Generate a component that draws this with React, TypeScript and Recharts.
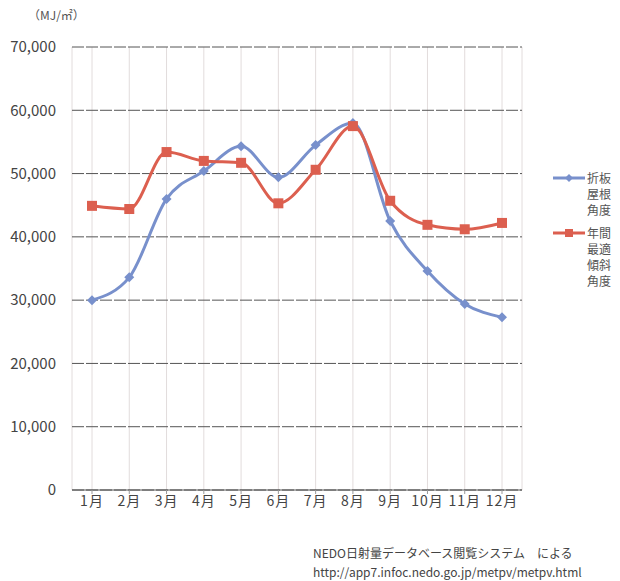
import { LineChart, Line, XAxis, YAxis, CartesianGrid } from 'recharts';

const months = ['1月', '2月', '3月', '4月', '5月', '6月', '7月', '8月', '9月', '10月', '11月', '12月'];
const foldedRoof = [30000, 33600, 46000, 50400, 54300, 49400, 54500, 58000, 42500, 34600, 29400, 27300];
const optimalTilt = [44900, 44400, 53400, 52000, 51700, 45300, 50600, 57500, 45700, 41900, 41200, 42200];
const yTicks = [0, 10000, 20000, 30000, 40000, 50000, 60000, 70000];

const data = months.map((m, i) => ({ month: m, folded: foldedRoof[i], optimal: optimalTilt[i] }));

const font = '"Noto Sans CJK JP", "Noto Sans", sans-serif';
const BLUE = '#7890cc';
const RED = '#dc5f4f';

function Diamond(props: any) {
  const { cx, cy } = props;
  if (cx == null || cy == null) return null;
  const r = 5;
  return <path d={`M${cx},${cy - r}L${cx + r},${cy}L${cx},${cy + r}L${cx - r},${cy}Z`} fill={BLUE} />;
}

function Square(props: any) {
  const { cx, cy } = props;
  if (cx == null || cy == null) return null;
  return <rect x={cx - 5} y={cy - 5} width={10} height={10} fill={RED} />;
}

function LegendBox() {
  const item = (color: string, lines: string[], marker: 'd' | 's') => (
    <div style={{ display: 'flex', alignItems: 'flex-start', marginBottom: 7 }}>
      <svg width={34} height={14} style={{ marginTop: 1 }}>
        <line x1={0} y1={7} x2={32} y2={7} stroke={color} strokeWidth={3} />
        {marker === 'd' ? (
          <path d="M16,3L20,7L16,11L12,7Z" fill={color} />
        ) : (
          <rect x={12} y={3} width={8} height={8} fill={color} />
        )}
      </svg>
      <div style={{ fontSize: 12, lineHeight: '16px', color: '#555', fontFamily: font }}>
        {lines.map((l) => (
          <div key={l}>{l}</div>
        ))}
      </div>
    </div>
  );
  return (
    <div style={{ position: 'absolute', left: 553, top: 170 }}>
      {item(BLUE, ['折板', '屋根', '角度'], 'd')}
      {item(RED, ['年間', '最適', '傾斜', '角度'], 's')}
    </div>
  );
}

export default function App() {
  return (
    <div style={{ position: 'absolute', left: 0, top: 0, width: 620, height: 581, background: '#fff', fontFamily: font }}>
      <div style={{ position: 'absolute', left: 28, top: 6, fontSize: 12, color: '#555' }}>（MJ/㎡）</div>
      <LineChart width={620} height={520} data={data} margin={{ top: 47, right: 98, bottom: 0, left: 0 }}>
        <CartesianGrid horizontal={false} vertical stroke="#e2dcdc" />
        <CartesianGrid horizontal vertical={false} stroke="#555" strokeDasharray="12 2" />
        <XAxis
          dataKey="month"
          padding={{ left: 20, right: 20 }}
          tick={{ fill: '#444', fontSize: 14, fontFamily: font, letterSpacing: 1 }}
          tickLine={{ stroke: '#999' }}
          axisLine={{ stroke: '#555' }}
          tickSize={4}
          height={30}
          interval={0}
        />
        <YAxis
          domain={[0, 70000]}
          ticks={yTicks}
          tickFormatter={(v: number) => v.toLocaleString('en-US')}
          tick={{ fill: '#444', fontSize: 15, fontFamily: font }}
          axisLine={false}
          tickLine={false}
          width={72}
          tickMargin={10}
        />
        <Line
          type="monotone"
          dataKey="folded"
          stroke={BLUE}
          strokeWidth={3}
          dot={<Diamond />}
          activeDot={false}
          isAnimationActive={false}
        />
        <Line
          type="monotone"
          dataKey="optimal"
          stroke={RED}
          strokeWidth={3}
          dot={<Square />}
          activeDot={false}
          isAnimationActive={false}
        />
      </LineChart>
      <LegendBox />
      <div style={{ position: 'absolute', left: 313, top: 543, fontSize: 12, color: '#444', lineHeight: '19px' }}>
        <div>NEDO日射量データベース閲覧システム　による</div>
        <div>http://app7.infoc.nedo.go.jp/metpv/metpv.html</div>
      </div>
    </div>
  );
}
